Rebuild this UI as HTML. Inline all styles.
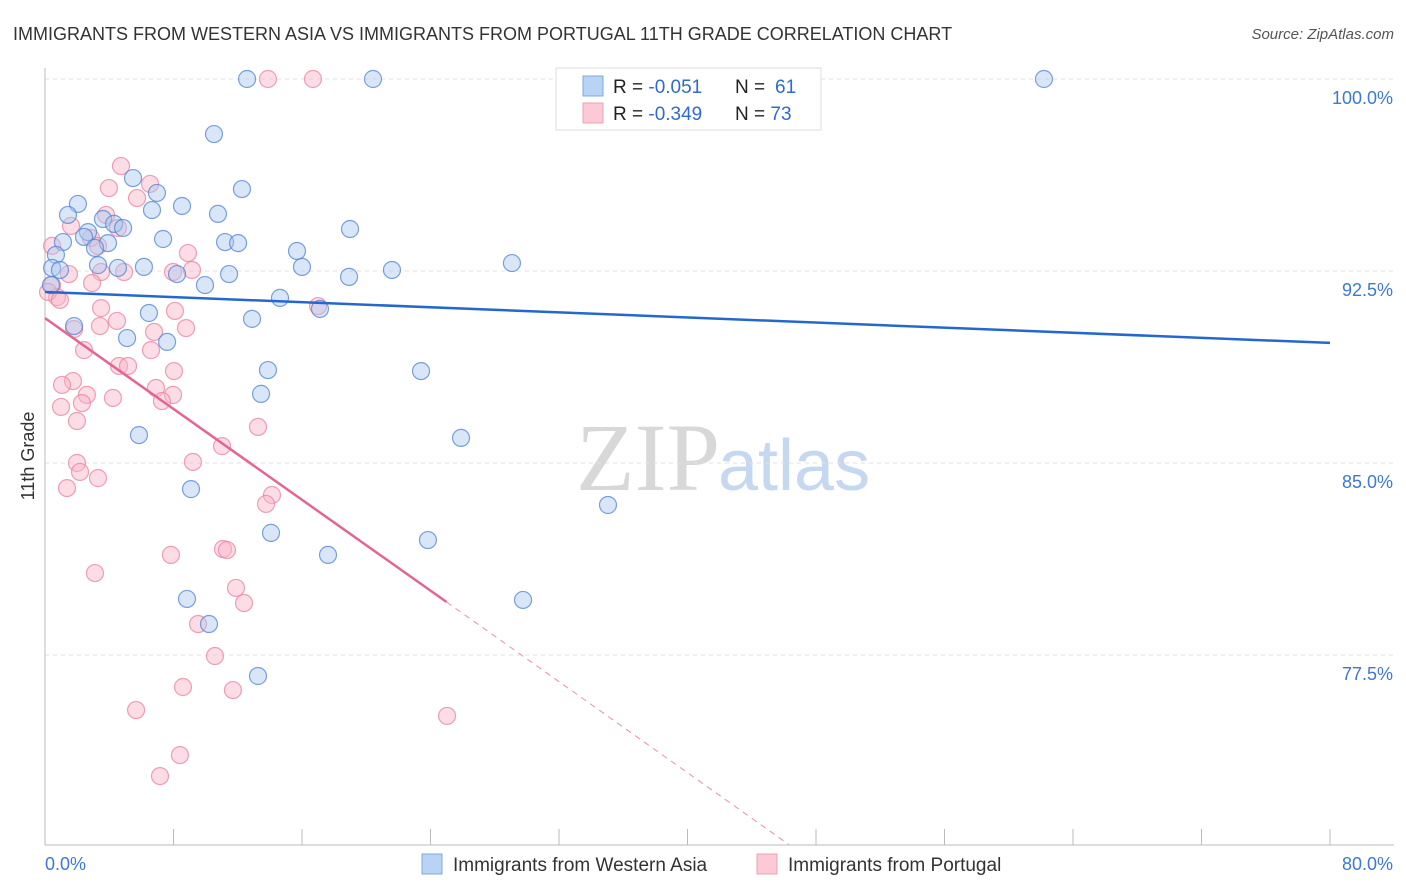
<!DOCTYPE html>
<html><head><meta charset="utf-8"><style>
body{margin:0;background:#fff;font-family:"Liberation Sans",sans-serif;}
svg{display:block}
</style></head><body>
<svg id="chart" width="1406" height="892">
<text x="13" y="40" font-size="18" fill="#333">IMMIGRANTS FROM WESTERN ASIA VS IMMIGRANTS FROM PORTUGAL 11TH GRADE CORRELATION CHART</text>
<text x="1394" y="39" font-size="15" fill="#555" font-style="italic" text-anchor="end">Source: ZipAtlas.com</text>
<text x="720" y="490" font-size="96" fill="#d8d8d8" text-anchor="end" font-family="Liberation Serif,serif">ZIP</text>
<text x="718" y="490" font-size="72" fill="#c5d8f0">atlas</text>
<g id="grid"></g><g id="axes"></g><g id="marks"></g><g id="trends"></g>
<text transform="translate(34,456) rotate(-90)" font-size="18" fill="#333" text-anchor="middle">11th Grade</text>
<g>
<rect x="556" y="68" width="265" height="62" fill="#fff" stroke="#ddd"/>
<rect x="583" y="76" width="20" height="20" fill="#b9d3f5" stroke="#7fa8e0"/>
<rect x="583" y="103" width="20" height="20" fill="#fcc9d6" stroke="#eea0b5"/>
<text x="613" y="93" font-size="19" fill="#222">R = <tspan fill="#2e6bd1">-0.051</tspan><tspan x="735">N = </tspan><tspan fill="#2e6bd1" x="775">61</tspan></text>
<text x="613" y="120" font-size="19" fill="#222">R = <tspan fill="#2e6bd1">-0.349</tspan><tspan x="735">N = </tspan><tspan fill="#2e6bd1">73</tspan></text>
</g>
<g>
<rect x="422" y="854" width="20" height="20" fill="#b9d3f5" stroke="#7fa8e0"/>
<text x="453" y="871" font-size="19" fill="#333">Immigrants from Western Asia</text>
<rect x="757" y="854" width="20" height="20" fill="#fcc9d6" stroke="#eea0b5"/>
<text x="788" y="871" font-size="19" fill="#333">Immigrants from Portugal</text>
</g>
</svg>
<script>
const xTicks=[0,8,16,24,32,40,48,56,64,72,80];
const yTicks=[77.5,85,92.5,100];
const yTickLabels=["77.5%","85.0%","92.5%","100.0%"];
const xEndLabels=["0.0%","80.0%"];
const bluePx=[[247,79],[373,79],[752,79],[1044,79],[214,134],[133,178],[242,189],[157,193],[78,204],[182,206],[152,210],[68,215],[218,214],[103,219],[114,224],[123,228],[350,229],[88,232],[84,237],[163,239],[108,243],[225,242],[238,243],[63,242],[95,248],[297,251],[56,255],[512,263],[98,265],[144,267],[118,268],[52,268],[60,270],[302,267],[392,270],[177,274],[229,274],[349,277],[205,285],[51,285],[280,298],[320,309],[149,313],[252,319],[74,326],[127,338],[167,342],[268,370],[421,371],[261,394],[461,438],[139,435],[191,489],[608,505],[271,533],[428,540],[328,555],[187,599],[523,600],[209,624],[258,676]];
const pinkPx=[[268,79],[313,79],[121,166],[150,184],[109,188],[137,198],[106,215],[71,226],[118,228],[91,238],[98,246],[52,246],[188,253],[69,274],[192,270],[101,272],[124,272],[173,272],[92,283],[52,285],[57,297],[48,292],[60,300],[318,306],[101,308],[175,311],[100,326],[186,328],[74,329],[154,332],[117,321],[84,350],[151,350],[119,366],[128,366],[174,371],[73,381],[62,385],[156,388],[87,395],[173,395],[113,398],[82,403],[162,401],[61,407],[77,421],[258,427],[222,446],[77,463],[193,462],[80,472],[98,478],[67,488],[272,495],[266,504],[223,549],[171,555],[227,550],[95,573],[236,588],[244,603],[198,624],[215,656],[183,687],[233,690],[136,710],[447,716],[180,755],[160,776]];
// convert estimated readings to data values
const r2=v=>Math.round(v*100)/100;
const blueX=bluePx.map(p=>r2((p[0]-45)/16.0625)), blueY=bluePx.map(p=>r2(100-(p[1]-79)/25.6));
const pinkX=pinkPx.map(p=>r2((p[0]-45)/16.0625)), pinkY=pinkPx.map(p=>r2(100-(p[1]-79)/25.6));
const blueTrend=[[0,91.68],[80,89.69]];
const pinkTrend=[[0,90.66],[25,79.57],[46.3,70.1]];

const X=v=>45+v*16.0625, Y=v=>79+(100-v)*25.6;
const NS="http://www.w3.org/2000/svg";
function mk(tag,parent,attrs){const e=document.createElementNS(NS,tag);for(const k in attrs)e.setAttribute(k,attrs[k]);parent.appendChild(e);return e;}
const grid=document.getElementById('grid'),axes=document.getElementById('axes'),marks=document.getElementById('marks'),trends=document.getElementById('trends');
yTicks.forEach((t,i)=>{
 const l=mk('line',grid,{x1:45,x2:1394,y1:Y(t),y2:Y(t),stroke:'#e2e2e2','stroke-dasharray':'4,4'});
 
 
 const tx=mk('text',axes,{x:1393,y:Y(t)+25,'font-size':18,fill:'#3d78d6','text-anchor':'end'});
 tx.textContent=yTickLabels[i];
 
 
});
const topG=mk('line',grid,{x1:45,x2:1394,y1:79,y2:79,stroke:'#e2e2e2','stroke-dasharray':'4,4'});
const ax=mk('line',axes,{x1:45,x2:45,y1:68,y2:845,stroke:'#bbb'});


const bx=mk('line',axes,{x1:45,x2:1394,y1:845,y2:845,stroke:'#bbb'});


xTicks.forEach(t=>{const l=mk('line',axes,{x1:X(t),x2:X(t),y1:829,y2:845,stroke:'#bbb'});
 
 });
const xl0=mk('text',axes,{x:45,y:870,'font-size':18,fill:'#3d78d6'});xl0.textContent=xEndLabels[0];


const xl1=mk('text',axes,{x:1393,y:870,'font-size':18,fill:'#3d78d6','text-anchor':'end'});xl1.textContent=xEndLabels[1];


pinkX.forEach((x,i)=>{const c=mk('circle',marks,{cx:X(x),cy:Y(pinkY[i]),r:8.5,fill:'rgba(248,180,200,0.45)',stroke:'rgba(232,130,160,0.75)','stroke-width':1.2});
 
 });
blueX.forEach((x,i)=>{const c=mk('circle',marks,{cx:X(x),cy:Y(blueY[i]),r:8.5,fill:'rgba(170,200,240,0.45)',stroke:'rgba(80,130,210,0.75)','stroke-width':1.2});
 
 });
const bt=mk('line',trends,{x1:X(blueTrend[0][0]),y1:Y(blueTrend[0][1]),x2:X(blueTrend[1][0]),y2:Y(blueTrend[1][1]),stroke:'#2468cf','stroke-width':2.5});


const pt=mk('line',trends,{x1:X(pinkTrend[0][0]),y1:Y(pinkTrend[0][1]),x2:X(pinkTrend[1][0]),y2:Y(pinkTrend[1][1]),stroke:'#e36591','stroke-width':2.5});


const pd=mk('line',trends,{x1:X(pinkTrend[1][0]),y1:Y(pinkTrend[1][1]),x2:X(pinkTrend[2][0]),y2:Y(pinkTrend[2][1]),stroke:'#eb8fae','stroke-width':1,'stroke-dasharray':'6,5'});


</script>
</body></html>
